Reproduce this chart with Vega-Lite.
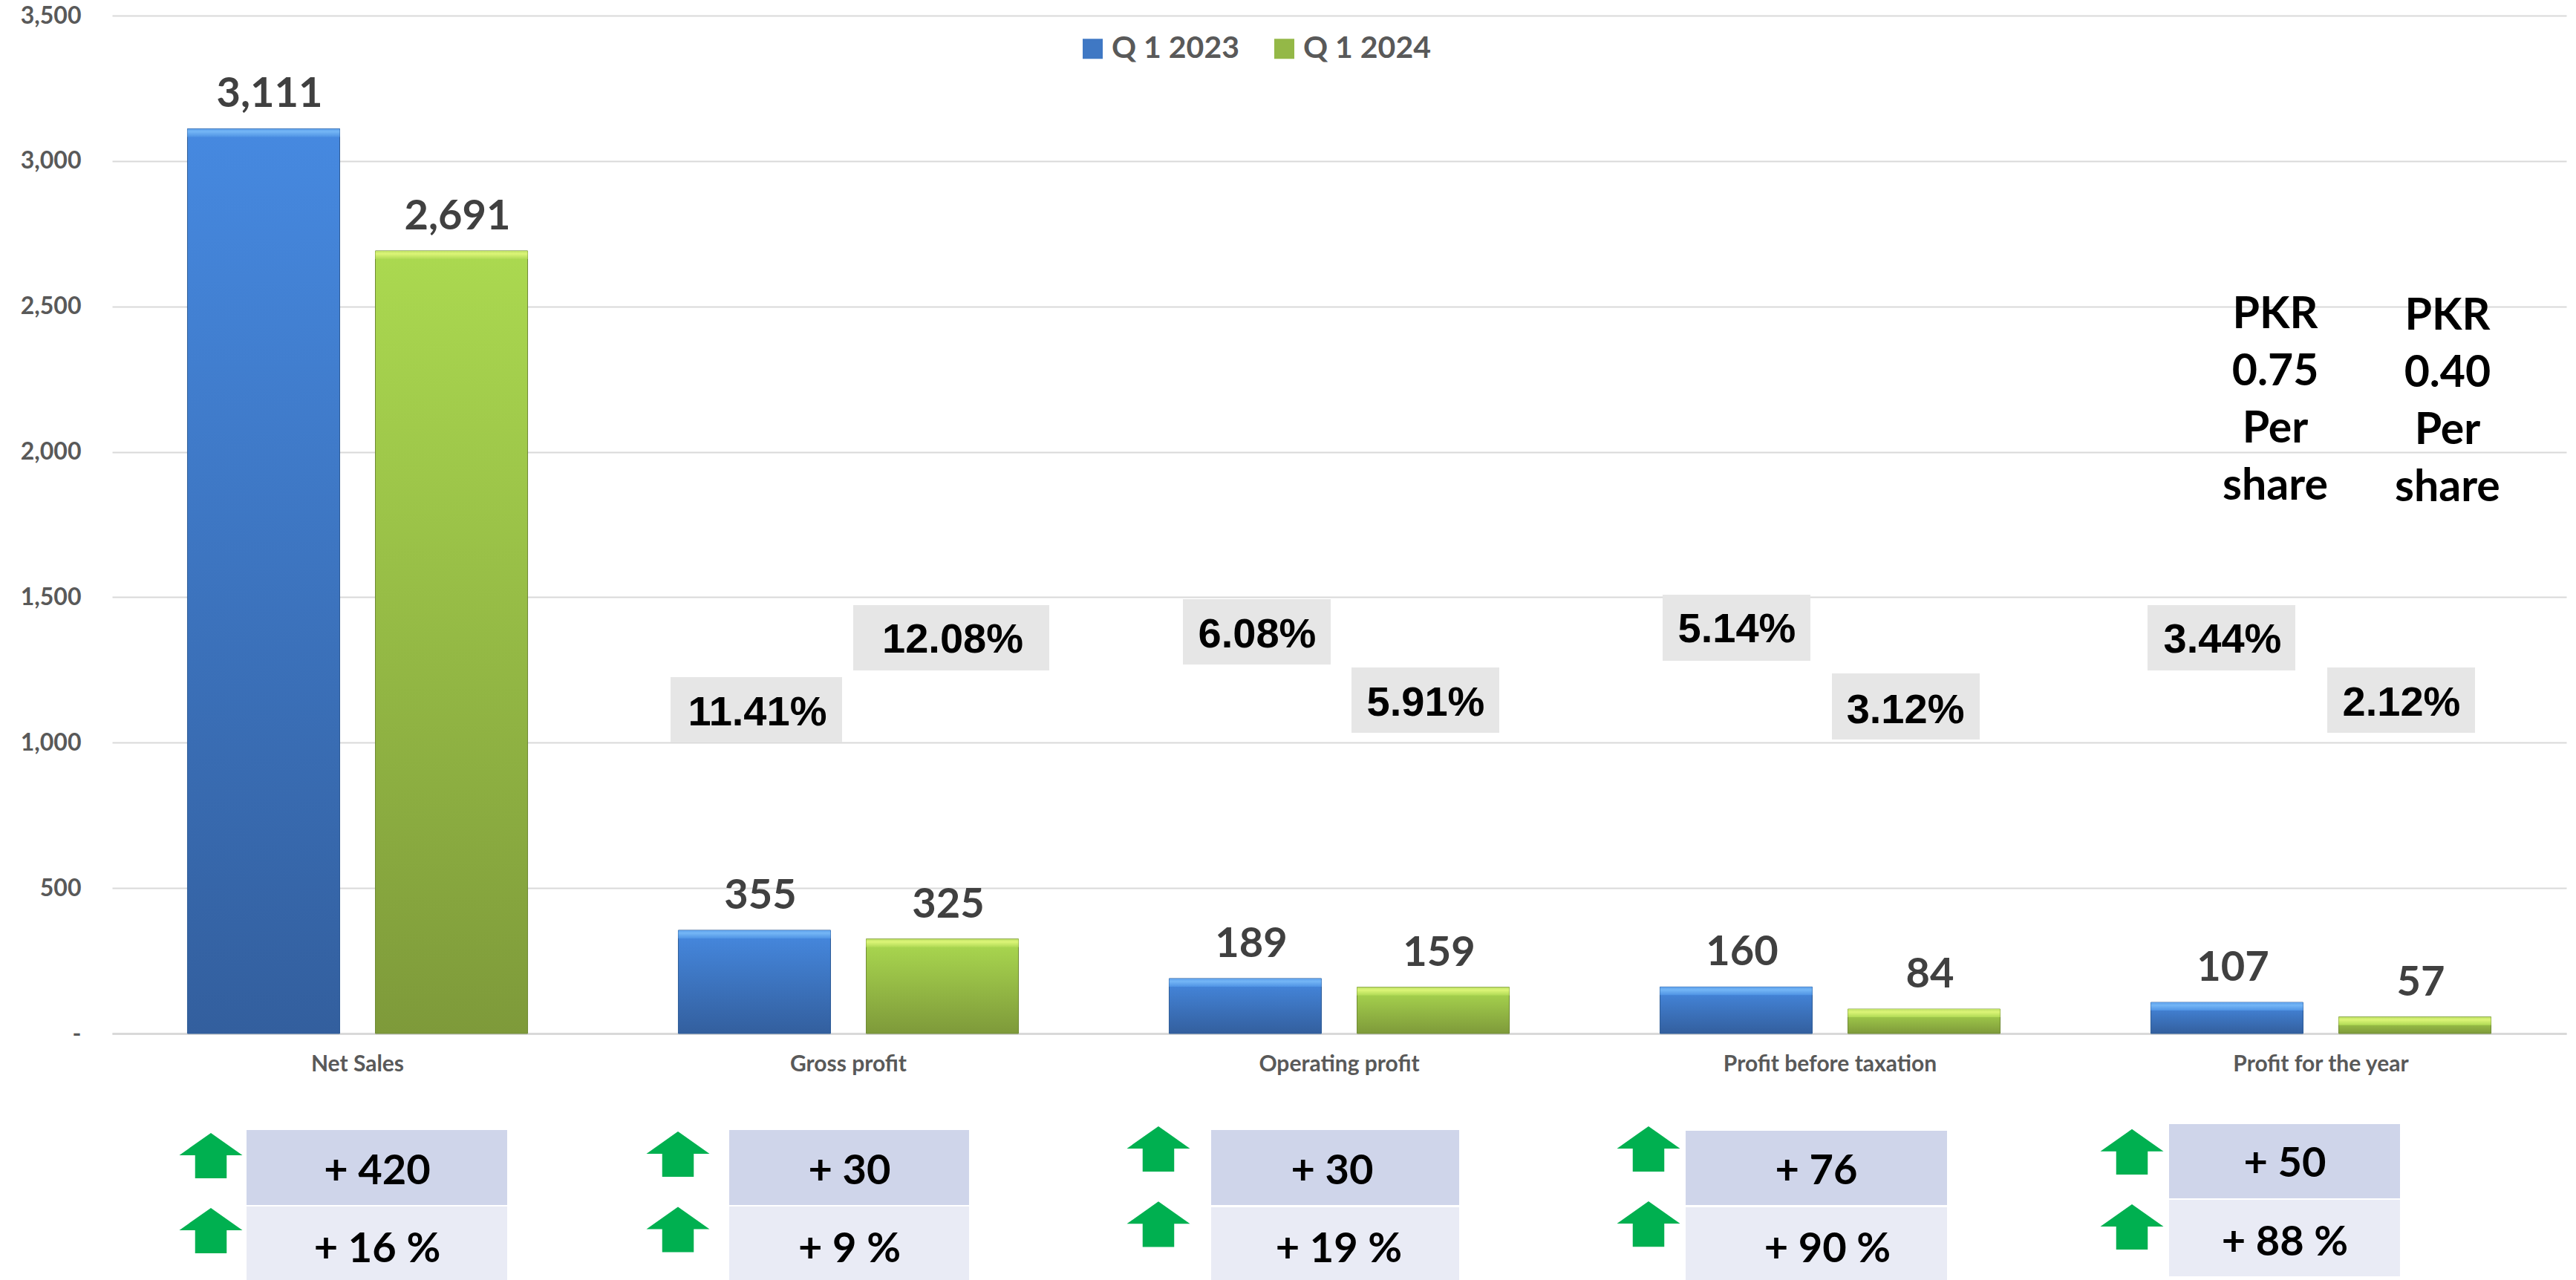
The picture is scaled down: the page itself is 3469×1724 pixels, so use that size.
{
"$schema":"https://vega.github.io/schema/vega-lite/v6.json",
"width":3305,"height":1371,
"autosize":{"type":"none"},
"padding":{"left":151,"top":21,"right":13,"bottom":332},
"background":"white",
"config":{"view":{"stroke":null}},
"datasets":{
"bars":[
{"metric":"Net Sales","series":"Q 1 2023","value":3111},
{"metric":"Net Sales","series":"Q 1 2024","value":2691},
{"metric":"Gross profit","series":"Q 1 2023","value":355},
{"metric":"Gross profit","series":"Q 1 2024","value":325},
{"metric":"Operating profit","series":"Q 1 2023","value":189},
{"metric":"Operating profit","series":"Q 1 2024","value":159},
{"metric":"Profit before taxation","series":"Q 1 2023","value":160},
{"metric":"Profit before taxation","series":"Q 1 2024","value":84},
{"metric":"Profit for the year","series":"Q 1 2023","value":107},
{"metric":"Profit for the year","series":"Q 1 2024","value":57}
],
"margins":[
{"label":"11.41%","a":1.1377,"b":1.4871,"low":1000.7,"high":1225.4,"at":1.3147,"level":1110.5},
{"label":"12.08%","a":1.5098,"b":1.9092,"low":1248.4,"high":1473.0,"at":1.7126,"level":1360.7},
{"label":"6.08%","a":2.1815,"b":2.4826,"low":1268.8,"high":1493.4,"at":2.3328,"level":1378.6},
{"label":"5.91%","a":2.5250,"b":2.8260,"low":1033.9,"high":1258.6,"at":2.6762,"level":1143.7},
{"label":"5.14%","a":3.1589,"b":3.4599,"low":1281.6,"high":1508.8,"at":3.3101,"level":1396.4},
{"label":"3.12%","a":3.5038,"b":3.8048,"low":1010.9,"high":1238.2,"at":3.6536,"level":1118.2},
{"label":"3.44%","a":4.1467,"b":4.4478,"low":1248.4,"high":1473.0,"at":4.2995,"level":1360.7},
{"label":"2.12%","a":4.5129,"b":4.8139,"low":1033.9,"high":1258.6,"at":4.6641,"level":1143.7}
],
"eps":[
{"label":"PKR\n0.75\nPer\nshare","at":4.4070,"level":2424},
{"label":"PKR\n0.40\nPer\nshare","at":4.7579,"level":2420}
],
"changes":[
{"label":"+ 420","row":"absolute","a":0.2738,"b":0.8048,"low":-589.7,"high":-331.9,"at":0.5401,"level":-462.1,"arrowAt":0.2012,"arrowLevel":-420},
{"label":"+ 16 %","row":"percent","a":0.2738,"b":0.8048,"low":-847.6,"high":-594.8,"at":0.5401,"level":-730.1,"arrowAt":0.2012,"arrowLevel":-677.8},
{"label":"+ 30","row":"absolute","a":1.2572,"b":1.7458,"low":-589.7,"high":-331.9,"at":1.5023,"level":-462.1,"arrowAt":1.1528,"arrowLevel":-414.9},
{"label":"+ 9 %","row":"percent","a":1.2572,"b":1.7458,"low":-847.6,"high":-594.8,"at":1.5023,"level":-730.1,"arrowAt":1.1528,"arrowLevel":-674},
{"label":"+ 30","row":"absolute","a":2.2390,"b":2.7443,"low":-589.7,"high":-331.9,"at":2.4856,"level":-462.1,"arrowAt":2.1316,"arrowLevel":-397},
{"label":"+ 19 %","row":"percent","a":2.2390,"b":2.7443,"low":-847.6,"high":-597.4,"at":2.4992,"level":-731,"arrowAt":2.1316,"arrowLevel":-656},
{"label":"+ 76","row":"absolute","a":3.2057,"b":3.7383,"low":-589.7,"high":-334.4,"at":3.4720,"level":-462.1,"arrowAt":3.1301,"arrowLevel":-397},
{"label":"+ 90 %","row":"percent","a":3.2057,"b":3.7383,"low":-847.6,"high":-597.4,"at":3.4947,"level":-730.1,"arrowAt":3.1301,"arrowLevel":-655},
{"label":"+ 50","row":"absolute","a":4.1906,"b":4.6611,"low":-566.7,"high":-311.5,"at":4.4266,"level":-436.5,"arrowAt":4.1150,"arrowLevel":-407},
{"label":"+ 88 %","row":"percent","a":4.1906,"b":4.6611,"low":-834.8,"high":-571.9,"at":4.4266,"level":-707.1,"arrowAt":4.1150,"arrowLevel":-665}
]
},
"resolve":{"scale":{"x":"independent"}},
"layer":[
{"data":{"name":"bars"},
 "mark":{"type":"bar"},
 "encoding":{
  "x":{"field":"metric","type":"nominal","sort":null,
   "scale":{"domain":["Net Sales","Gross profit","Operating profit","Profit before taxation","Profit for the year"],"paddingInner":0.307,"paddingOuter":0.1535},
   "axis":{"title":null,"labelAngle":0,"ticks":false,"grid":false,"domainColor":"#D9D9D9","domainWidth":3,"labelFont":"Lato","labelFontWeight":"bold","labelFontSize":30,"labelColor":"#595959","labelPadding":26,"labelLimit":1000}},
  "xOffset":{"field":"series","type":"nominal","scale":{"domain":["Q 1 2023","Q 1 2024"],"paddingInner":0.1897,"paddingOuter":0}},
  "y":{"field":"value","type":"quantitative",
   "scale":{"domain":[0,3500],"nice":false,"zero":false},
   "axis":{"title":null,"values":[0,500,1000,1500,2000,2500,3000,3500],"domain":false,"ticks":false,"gridColor":"#D9D9D9","gridWidth":2,"labelFont":"Lato","labelFontSize":32,"labelFontWeight":"bold","labelColor":"#595959","labelPadding":42,"labelExpr":"datum.value === 0 ? '-\u00a0\u00a0\u00a0' : format(datum.value, ',')"}},
  "color":{"field":"series","type":"nominal",
   "scale":{"domain":["Q 1 2023","Q 1 2024"],"range":["#3F78C4","#94B847"]},
   "legend":{"title":null,"orient":"none","legendX":1300,"legendY":24,"direction":"horizontal","symbolType":"square","symbolSize":729,"symbolStrokeWidth":0,"symbolOpacity":1,"labelFont":"Lato","labelFontWeight":"bold","labelFontSize":41,"labelColor":"#595959","labelOffset":5,"columnPadding":40,"labelLimit":1000}}
 }},
{"data":{"name":"bars"},
 "transform":[{"filter":"datum.series === 'Q 1 2023'"}],
 "mark":{"type":"bar","stroke":"#2F5C96","strokeWidth":1,"color":{"gradient":"linear","x1":0,"y1":0,"x2":0,"y2":1,"stops":[{"offset":0,"color":"#4689E0"},{"offset":1,"color":"#335F9E"}]}},
 "encoding":{
  "x":{"field":"metric","type":"nominal","sort":null,
   "scale":{"domain":["Net Sales","Gross profit","Operating profit","Profit before taxation","Profit for the year"],"paddingInner":0.307,"paddingOuter":0.1535},"axis":null},
  "xOffset":{"field":"series","type":"nominal","scale":{"domain":["Q 1 2023","Q 1 2024"],"paddingInner":0.1897,"paddingOuter":0}},
  "y":{"field":"value","type":"quantitative"}
 }},
{"data":{"name":"bars"},
 "transform":[{"filter":"datum.series === 'Q 1 2024'"}],
 "mark":{"type":"bar","stroke":"#6F8A34","strokeWidth":1,"color":{"gradient":"linear","x1":0,"y1":0,"x2":0,"y2":1,"stops":[{"offset":0,"color":"#ABD950"},{"offset":1,"color":"#7E9A3A"}]}},
 "encoding":{
  "x":{"field":"metric","type":"nominal","sort":null,
   "scale":{"domain":["Net Sales","Gross profit","Operating profit","Profit before taxation","Profit for the year"],"paddingInner":0.307,"paddingOuter":0.1535},"axis":null},
  "xOffset":{"field":"series","type":"nominal","scale":{"domain":["Q 1 2023","Q 1 2024"],"paddingInner":0.1897,"paddingOuter":0}},
  "y":{"field":"value","type":"quantitative"}
 }},
{"data":{"name":"bars"},
 "transform":[{"filter":"datum.series === 'Q 1 2023'"}],
 "mark":{"type":"bar","y2Offset":11,"color":{"gradient":"linear","x1":0,"y1":0,"x2":0,"y2":1,"stops":[{"offset":0,"color":"#5EA0EA"},{"offset":0.35,"color":"#74B6F6"},{"offset":1,"color":"#4F93E4"}]}},
 "encoding":{
  "x":{"field":"metric","type":"nominal","sort":null,
   "scale":{"domain":["Net Sales","Gross profit","Operating profit","Profit before taxation","Profit for the year"],"paddingInner":0.307,"paddingOuter":0.1535},"axis":null},
  "xOffset":{"field":"series","type":"nominal","scale":{"domain":["Q 1 2023","Q 1 2024"],"paddingInner":0.1897,"paddingOuter":0}},
  "y":{"field":"value","type":"quantitative"},
  "y2":{"field":"value"}
 }},
{"data":{"name":"bars"},
 "transform":[{"filter":"datum.series === 'Q 1 2024'"}],
 "mark":{"type":"bar","y2Offset":11,"color":{"gradient":"linear","x1":0,"y1":0,"x2":0,"y2":1,"stops":[{"offset":0,"color":"#BFE066"},{"offset":0.35,"color":"#DCF577"},{"offset":1,"color":"#B0DA55"}]}},
 "encoding":{
  "x":{"field":"metric","type":"nominal","sort":null,
   "scale":{"domain":["Net Sales","Gross profit","Operating profit","Profit before taxation","Profit for the year"],"paddingInner":0.307,"paddingOuter":0.1535},"axis":null},
  "xOffset":{"field":"series","type":"nominal","scale":{"domain":["Q 1 2023","Q 1 2024"],"paddingInner":0.1897,"paddingOuter":0}},
  "y":{"field":"value","type":"quantitative"},
  "y2":{"field":"value"}
 }},
{"data":{"name":"bars"},
 "mark":{"type":"text","font":"Lato","fontWeight":"bold","fontSize":56,"color":"#404040","baseline":"alphabetic","dx":8,"dy":-29},
 "encoding":{
  "x":{"field":"metric","type":"nominal","sort":null,
   "scale":{"domain":["Net Sales","Gross profit","Operating profit","Profit before taxation","Profit for the year"],"paddingInner":0.307,"paddingOuter":0.1535},"axis":null},
  "xOffset":{"field":"series","type":"nominal","scale":{"domain":["Q 1 2023","Q 1 2024"],"paddingInner":0.1897,"paddingOuter":0}},
  "y":{"field":"value","type":"quantitative"},
  "text":{"field":"value","type":"quantitative","format":","}
 }},
{"data":{"name":"margins"},
 "mark":{"type":"rect","color":"#E6E6E6"},
 "encoding":{
  "x":{"field":"a","type":"quantitative","scale":{"domain":[0,5],"nice":false,"zero":false},"axis":null},
  "x2":{"field":"b"},
  "y":{"field":"low","type":"quantitative"},
  "y2":{"field":"high"}
 }},
{"data":{"name":"margins"},
 "mark":{"type":"text","font":"Liberation Sans","fontWeight":"bold","fontSize":56,"color":"#000000","baseline":"middle","dy":3},
 "encoding":{
  "x":{"field":"at","type":"quantitative","scale":{"domain":[0,5],"nice":false,"zero":false},"axis":null},
  "y":{"field":"level","type":"quantitative"},
  "text":{"field":"label"}
 }},
{"data":{"name":"eps"},
 "mark":{"type":"text","font":"Lato","fontWeight":"bold","fontSize":59,"color":"#000000","baseline":"alphabetic","lineBreak":"\n","lineHeight":77},
 "encoding":{
  "x":{"field":"at","type":"quantitative","scale":{"domain":[0,5],"nice":false,"zero":false},"axis":null},
  "y":{"field":"level","type":"quantitative"},
  "text":{"field":"label"}
 }},
{"data":{"name":"changes"},
 "mark":{"type":"rect"},
 "encoding":{
  "x":{"field":"a","type":"quantitative","scale":{"domain":[0,5],"nice":false,"zero":false},"axis":null},
  "x2":{"field":"b"},
  "y":{"field":"low","type":"quantitative"},
  "y2":{"field":"high"},
  "fill":{"condition":{"test":"datum.row === 'absolute'","value":"#CFD5EA"},"value":"#E9EBF5"}
 }},
{"data":{"name":"changes"},
 "mark":{"type":"text","font":"Lato","fontWeight":"bold","fontSize":56,"color":"#000000","baseline":"middle","dy":5},
 "encoding":{
  "x":{"field":"at","type":"quantitative","scale":{"domain":[0,5],"nice":false,"zero":false},"axis":null},
  "y":{"field":"level","type":"quantitative"},
  "text":{"field":"label"}
 }},
{"data":{"name":"changes"},
 "mark":{"type":"point","filled":true,"opacity":1,"color":"#00B050","size":7225,"shape":"M0,-0.72L1,-0.014L0.5,-0.014L0.5,0.72L-0.5,0.72L-0.5,-0.014L-1,-0.014Z"},
 "encoding":{
  "x":{"field":"arrowAt","type":"quantitative","scale":{"domain":[0,5],"nice":false,"zero":false},"axis":null},
  "y":{"field":"arrowLevel","type":"quantitative"}
 }}
]
}
